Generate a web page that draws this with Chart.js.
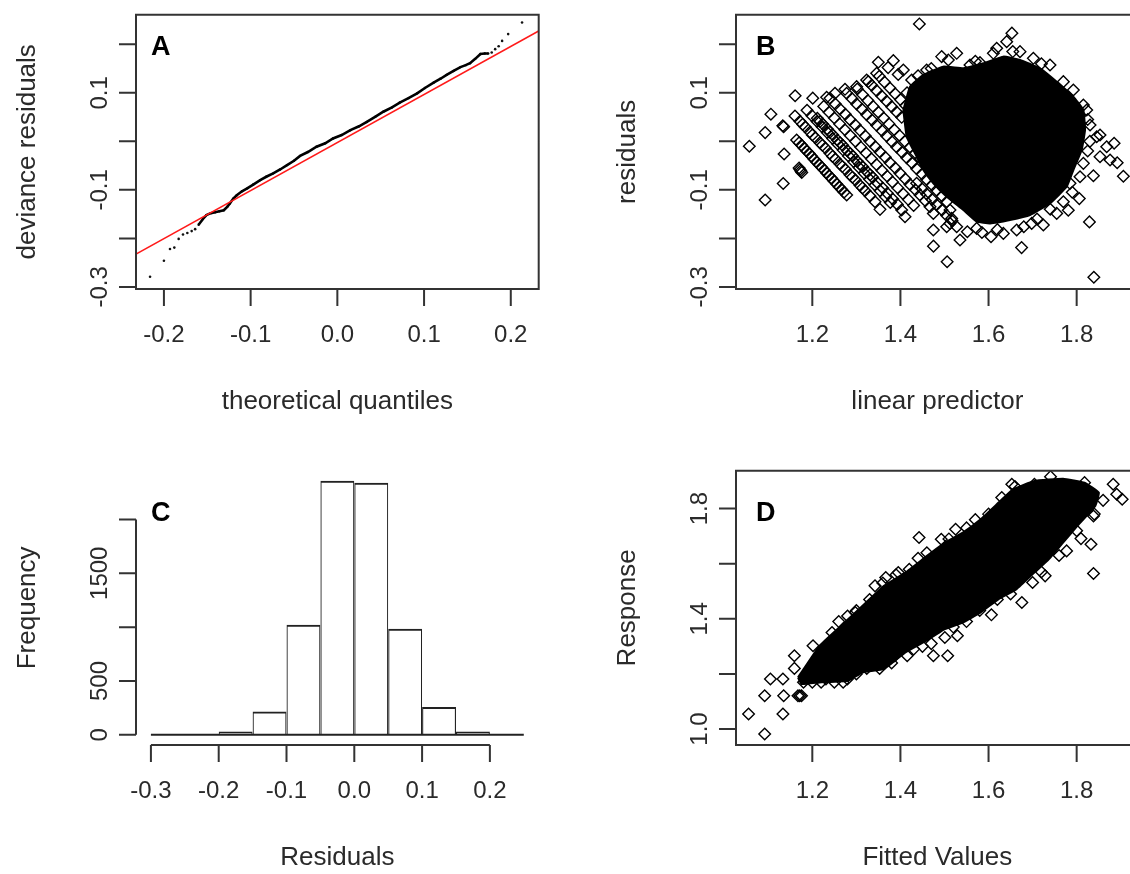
<!DOCTYPE html>
<html>
<head>
<meta charset="utf-8">
<script src="https://cdn.jsdelivr.net/npm/chart.js@4.4.1/dist/chart.umd.min.js"></script>
<style>
  html, body { margin: 0; padding: 0; background: #fff; overflow: hidden; }
  #page { position: relative; width: 1130px; height: 874px; overflow: hidden; background: #fff; }
  canvas { position: absolute; }
</style>
</head>
<body>
<div id="page">
  <canvas id="chartA" width="600" height="456" style="left:0px;top:0px"></canvas>
  <canvas id="chartB" width="600" height="456" style="left:600px;top:0px"></canvas>
  <canvas id="chartC" width="600" height="456" style="left:0px;top:456px"></canvas>
  <canvas id="chartD" width="600" height="456" style="left:600px;top:456px"></canvas>
</div>
<script>
// ---- A: QQ plot of deviance residuals ----
const qqDense = [
  [-0.160,-0.172],[-0.155,-0.160],[-0.151,-0.152],[-0.146,-0.148],[-0.141,-0.146],[-0.136,-0.144],
  [-0.131,-0.142],[-0.127,-0.135],[-0.124,-0.128],[-0.120,-0.118],[-0.116,-0.111],[-0.110,-0.103],
  [-0.104,-0.097],[-0.097,-0.089],[-0.089,-0.080],[-0.082,-0.073],[-0.074,-0.066],[-0.066,-0.058],
  [-0.058,-0.049],[-0.050,-0.040],[-0.043,-0.030],[-0.034,-0.022],[-0.024,-0.011],[-0.014,-0.004],
  [-0.005,0.006],[0.005,0.013],[0.015,0.023],[0.025,0.031],[0.034,0.040],[0.044,0.051],
  [0.053,0.061],[0.063,0.070],[0.072,0.080],[0.082,0.089],[0.092,0.099],[0.101,0.110],
  [0.111,0.121],[0.119,0.129],[0.126,0.137],[0.134,0.145],[0.142,0.153],[0.148,0.157],
  [0.153,0.161],[0.159,0.170],[0.165,0.180],[0.170,0.181],[0.174,0.181]
];
const qqTails = [
  [-0.216,-0.279],[-0.200,-0.246],[-0.193,-0.222],[-0.188,-0.219],[-0.183,-0.201],[-0.178,-0.192],
  [-0.173,-0.189],[-0.168,-0.185],[-0.164,-0.181],
  [0.178,0.183],[0.182,0.190],[0.186,0.196],[0.190,0.207],[0.197,0.221],[0.213,0.245]
];
const qqLine = [[-0.2322,-0.2324],[0.2322,0.2274]];

// ---- B: residuals vs linear predictor ----
const bCore = [
  [1.4066,0.0646],[1.4217,0.1127],[1.452,0.1368],[1.4974,0.154],[1.5428,0.1505],[1.5882,0.1608],
  [1.6336,0.1746],[1.6714,0.1677],[1.7168,0.1505],[1.7547,0.123],[1.7925,0.0921],[1.8152,0.0646],
  [1.819,0.0234],[1.8114,-0.0179],[1.7925,-0.0591],[1.7774,-0.0935],[1.7395,-0.1278],[1.6941,-0.1519],
  [1.6487,-0.1622],[1.6033,-0.1691],[1.5731,-0.1656],[1.5428,-0.1416],[1.505,-0.1141],[1.4747,-0.0866],
  [1.452,-0.0591],[1.4369,-0.0316],[1.4142,0.0096],[1.4066,0.0646]
];
const bPoints = [
  // isolated
  [1.443,0.242],[1.653,0.223],[1.057,-0.010],[1.093,0.018],[1.106,0.056],[1.093,-0.121],
  [1.134,-0.087],[1.136,-0.026],[1.133,0.032],[1.135,0.030],[1.161,0.094],[1.201,0.089],
  [1.475,-0.216],[1.506,-0.248],[1.675,-0.219],[1.839,-0.280],[1.829,-0.166],[1.806,-0.118],
  [1.781,-0.142],[1.885,-0.004],[1.906,-0.072],[1.892,-0.044],[1.838,-0.071],
  [1.172,-0.058],[1.174,-0.061],[1.170,-0.055],[1.176,-0.064],
  // streaks on the left
  [1.1644,0.0027],[1.1701,-0.003],[1.1758,-0.0082],[1.1815,-0.014],[1.1871,-0.0199],[1.193,-0.025],
  [1.1985,-0.0309],[1.204,-0.037],[1.2098,-0.0426],[1.2155,-0.048],[1.2212,-0.0536],[1.227,-0.059],
  [1.2325,-0.0653],[1.238,-0.071],[1.2439,-0.0763],[1.2495,-0.082],[1.2553,-0.088],[1.261,-0.094],
  [1.2666,-0.099],[1.272,-0.105],[1.278,-0.1107],
  [1.1607,0.0522],[1.172,0.0412],[1.178,0.035],[1.184,0.0296],[1.1947,0.0192],[1.2,0.013],
  [1.2068,0.0076],[1.2174,-0.0027],[1.223,-0.008],[1.2295,-0.0137],[1.2401,-0.0247],[1.246,-0.031],
  [1.2522,-0.0364],[1.2628,-0.0467],[1.268,-0.052],[1.2749,-0.0577],[1.2855,-0.0687],[1.291,-0.074],
  [1.2976,-0.0797],[1.3082,-0.0907],[1.314,-0.096],[1.3196,-0.1017],[1.3309,-0.1127],[1.3423,-0.1244],
  [1.3536,-0.1402],
  [1.188,0.064],[1.199,0.053],[1.211,0.041],[1.222,0.03],[1.234,0.018],[1.246,0.006],[1.258,-0.006],
  [1.27,-0.018],[1.282,-0.03],[1.294,-0.042],[1.306,-0.054],[1.318,-0.066],[1.33,-0.078],
  [1.342,-0.09],[1.354,-0.102],[1.366,-0.114],[1.377,-0.126],
  [1.2114,0.0474],[1.2175,0.041],[1.2235,0.0357],[1.2341,0.0254],[1.24,0.019],[1.2462,0.0137],
  [1.2568,0.0027],[1.263,-0.003],[1.2689,-0.0082],[1.2795,-0.0192],[1.286,-0.025],[1.2916,-0.0302],
  [1.3022,-0.0412],[1.308,-0.047],[1.3143,-0.0522],[1.3249,-0.0632],[1.331,-0.069],[1.337,-0.0742],
  [1.3476,-0.0852],[1.3597,-0.0962],[1.3703,-0.1072],[1.3824,-0.1189],[1.393,-0.1299],[1.4028,-0.1416],
  [1.4104,-0.1553],
  [1.226,0.072],[1.238,0.06],[1.25,0.048],[1.262,0.036],[1.274,0.024],[1.286,0.012],[1.298,0.0],
  [1.31,-0.012],[1.322,-0.024],[1.334,-0.036],[1.346,-0.048],[1.358,-0.06],[1.37,-0.072],
  [1.382,-0.084],[1.394,-0.096],[1.406,-0.108],[1.418,-0.12],[1.43,-0.132],
  [1.2401,0.0887],[1.2522,0.077],[1.2628,0.0667],[1.2749,0.0557],[1.2855,0.0447],[1.2976,0.0337],
  [1.3082,0.0227],[1.3203,0.011],[1.3309,0.0],[1.343,-0.011],[1.3536,-0.022],[1.3657,-0.033],
  [1.3763,-0.044],[1.3884,-0.055],[1.399,-0.066],[1.4111,-0.0777],[1.4217,-0.0887],[1.4338,-0.0997],
  [1.4444,-0.1107],[1.4565,-0.1223],[1.4671,-0.1347],[1.4747,-0.1485],
  [1.2779,0.099],[1.29,0.088],[1.3006,0.077],[1.3128,0.066],[1.3233,0.055],[1.3355,0.044],
  [1.346,0.033],[1.3582,0.022],[1.3687,0.011],[1.3809,-0.0007],[1.3914,-0.0117],[1.4036,-0.0227],
  [1.4141,-0.0337],[1.4262,-0.0447],[1.4368,-0.0564],[1.449,-0.0674],[1.4596,-0.0784],[1.4717,-0.09],
  [1.4823,-0.101],[1.4944,-0.1127],[1.505,-0.1244],[1.5125,-0.1416],[1.5163,-0.1588],[1.5125,-0.1691],
  [1.302,0.108],[1.314,0.096],[1.326,0.084],[1.338,0.072],[1.35,0.06],[1.362,0.048],[1.374,0.036],
  [1.386,0.024],[1.398,0.012],[1.41,0.0],[1.422,-0.012],[1.434,-0.024],[1.446,-0.036],
  [1.458,-0.048],[1.47,-0.06],[1.482,-0.072],[1.494,-0.084],[1.506,-0.096],[1.518,-0.108],
  [1.3233,0.1265],[1.3347,0.1155],[1.346,0.1045],[1.3574,0.0935],[1.3687,0.0825],[1.3801,0.0715],
  [1.3914,0.0605],[1.4028,0.0495],
  [1.352,0.134],[1.364,0.122],[1.376,0.11],[1.388,0.098],[1.4,0.086],[1.412,0.074],
  [1.3498,0.1629],[1.3839,0.1663],[1.4066,0.1471],[1.3271,0.123],[1.346,0.1402],[1.3006,0.1127],
  [1.2742,0.1072],[1.2325,0.0907],[1.2515,0.099],[1.372,0.152],[1.395,0.138],
  [1.4368,-0.0866],[1.449,-0.0976],[1.4596,-0.1086],[1.4717,-0.1196],[1.4823,-0.1306],[1.4944,-0.1416],
  [1.505,-0.1526],[1.5171,-0.1636],[1.5277,-0.1759],[1.5352,-0.2034],
  // rim of the dense cloud
  [1.4747,-0.1828],[1.505,-0.1759],[1.5519,-0.1862],[1.6056,-0.1966],[1.6336,-0.1897],[1.6639,-0.1828],
  [1.6979,-0.1691],[1.7244,-0.1725],[1.7547,-0.1485],[1.7698,-0.1244],[1.5731,-0.1794],
  [1.585,-0.188],[1.62,-0.182],[1.68,-0.176],[1.71,-0.16],[1.74,-0.14],[1.79,-0.105],
  [1.4255,0.1265],[1.4595,0.1471],[1.4936,0.1746],[1.5277,0.1814],[1.5087,0.1677],[1.5579,0.1574],
  [1.5806,0.1622],[1.6109,0.1814],[1.6185,0.1918],[1.6412,0.2055],[1.6714,0.1849],[1.7017,0.1711],
  [1.7395,0.1574],[1.7698,0.123],[1.7925,0.1058],[1.8152,0.0749],[1.8228,0.0646],[1.8304,0.0337],
  [1.8455,0.0096],[1.853,0.0131],[1.8682,-0.011],[1.8758,-0.0385],[1.853,-0.0316],[1.8152,-0.0454],
  [1.8076,-0.0729],[1.7849,-0.0866],[1.825,0.045],[1.83,0.0],[1.825,-0.02],[1.72,0.16],[1.655,0.185],
  [1.57,0.165],[1.47,0.15],[1.44,0.135],[1.415,0.1]
];

// ---- C: histogram of residuals ----
const histMids = [-0.275,-0.225,-0.175,-0.125,-0.075,-0.025,0.025,0.075,0.125,0.175,0.225];
const histCounts = [1, 3, 31, 216, 1022, 2358, 2340, 985, 259, 31, 2];
const histBase = [-0.3, 0.25];

// ---- D: response vs fitted ----
const dCore = [
  [1.1675,1.1873],[1.2163,1.3021],[1.265,1.3746],[1.322,1.4592],[1.3626,1.5196],[1.4114,1.568],
  [1.4602,1.6284],[1.5008,1.6767],[1.5415,1.713],[1.5821,1.7613],[1.6228,1.8218],[1.6553,1.8701],
  [1.7041,1.9003],[1.7691,1.9088],[1.8179,1.8943],[1.8504,1.858],[1.8423,1.8097],[1.8016,1.7372],
  [1.7691,1.6767],[1.7366,1.6163],[1.7041,1.568],[1.6634,1.5076],[1.6228,1.4713],[1.5821,1.423],
  [1.5415,1.3867],[1.5008,1.3625],[1.452,1.3142],[1.4114,1.278],[1.3626,1.2175],[1.3138,1.2054],
  [1.2813,1.1752],[1.2163,1.1692],[1.1756,1.1631],[1.1675,1.1873]
];
const dPoints = [
  [1.0553,1.0544],[1.0919,0.9819],[1.0919,1.1208],[1.1333,1.0544],[1.135,1.1208],[1.1049,1.1813],
  [1.1333,1.1813],[1.1715,1.1208],[1.1675,1.1208],[1.1755,1.1208],[1.1593,1.2659],[1.1593,1.22],
  [1.2016,1.3021],[1.2976,1.423],[1.4423,1.6949],[1.8382,1.5644],[1.8325,1.6707],[1.8098,1.6912],
  [1.8829,1.8882],[1.9033,1.8338],[1.891,1.852],[1.8382,1.7734],[1.6756,1.4592],[1.6065,1.4145],
  [1.5073,1.2659],[1.4748,1.2659],[1.5293,1.3384],[1.5008,1.3323],[1.7772,1.6465],[1.7285,1.5559],
  [1.7,1.5317],[1.6528,1.8882],[1.7041,1.8882],[1.7407,1.916],[1.8179,1.8943],[1.5252,1.725],
  [1.4927,1.6888],[1.3951,1.568],[1.3667,1.5498],[1.3423,1.5196],[1.2447,1.3505],[1.2309,1.1813],
  [1.2797,1.1813],[1.3528,1.22],[1.3236,1.22],[1.387,1.2659],[1.4154,1.2659],
  [1.18,1.17],[1.2,1.17],[1.22,1.17],[1.25,1.17],[1.27,1.17],
  [1.3,1.43],[1.33,1.47],[1.36,1.53],[1.42,1.58],[1.46,1.64],[1.51,1.69],[1.55,1.73],[1.6,1.78],
  [1.63,1.84],[1.66,1.88],[1.72,1.57],[1.76,1.63],[1.8,1.72],[1.84,1.78],[1.86,1.83],[1.65,1.49],
  [1.58,1.43],[1.55,1.39],[1.47,1.31],[1.43,1.29],[1.38,1.24],[1.3,1.2],
  [1.26,1.39],[1.28,1.41],[1.39,1.56],[1.44,1.62],[1.57,1.76],[1.62,1.47],[1.52,1.37],[1.45,1.3]
];

// tick values and labels ('' = tick without label, as R drops crowded ones)
const aXTicks = [-0.2, -0.1, 0.0, 0.1, 0.2];
const aXLabels = ['-0.2', '-0.1', '0.0', '0.1', '0.2'];
const resYTicks = [-0.3, -0.2, -0.1, 0.0, 0.1, 0.2];
const resYLabels = ['-0.3', '', '-0.1', '', '0.1', ''];
const predXTicks = [1.2, 1.4, 1.6, 1.8];
const predXLabels = ['1.2', '1.4', '1.6', '1.8'];
const cXTicks = [-0.3, -0.2, -0.1, 0.0, 0.1, 0.2];
const cXLabels = ['-0.3', '-0.2', '-0.1', '0.0', '0.1', '0.2'];
const cYTicks = [0, 500, 1000, 1500, 2000];
const cYLabels = ['0', '500', '', '1500', ''];
const dYTicks = [1.0, 1.2, 1.4, 1.6, 1.8];
const dYLabels = ['1.0', '', '1.4', '', '1.8'];

const INK = '#2a2a2a';
const FONT = "'Liberation Sans', Arial, sans-serif";

// R style axes: box, outward ticks, rotated y labels, titles and panel letter
const rAxes = {
  id: 'rAxes',
  afterDraw(chart, args, o) {
    const {ctx, chartArea: a} = chart;
    const x = chart.scales.x, y = chart.scales.y;
    const tl = 17;
    ctx.save();
    ctx.strokeStyle = '#333';
    ctx.lineWidth = 2;
    ctx.beginPath();
    if (o.box) {
      ctx.rect(a.left, a.top, a.right - a.left, a.bottom - a.top);
    } else {
      ctx.moveTo(a.left, y.getPixelForValue(o.yTicks[0]));
      ctx.lineTo(a.left, y.getPixelForValue(o.yTicks[o.yTicks.length - 1]));
      ctx.moveTo(x.getPixelForValue(o.xTicks[0]), a.bottom);
      ctx.lineTo(x.getPixelForValue(o.xTicks[o.xTicks.length - 1]), a.bottom);
    }
    o.yTicks.forEach(v => {
      const py = y.getPixelForValue(v);
      ctx.moveTo(a.left - tl, py);
      ctx.lineTo(a.left, py);
    });
    o.xTicks.forEach(v => {
      const px = x.getPixelForValue(v);
      ctx.moveTo(px, a.bottom);
      ctx.lineTo(px, a.bottom + tl);
    });
    ctx.stroke();

    ctx.fillStyle = INK;
    ctx.font = '24px ' + FONT;
    ctx.textAlign = 'center';
    ctx.textBaseline = 'middle';
    o.xTicks.forEach((v, i) => {
      ctx.fillText(o.xLabels[i], x.getPixelForValue(v), a.bottom + 46);
    });
    o.yTicks.forEach((v, i) => {
      if (!o.yLabels[i]) return;
      ctx.save();
      ctx.translate(a.left - 36, y.getPixelForValue(v));
      ctx.rotate(-Math.PI / 2);
      ctx.fillText(o.yLabels[i], 0, 0);
      ctx.restore();
    });
    ctx.font = '26px ' + FONT;
    ctx.fillText(o.xTitle, (a.left + a.right) / 2, a.bottom + 113);
    ctx.save();
    ctx.translate(a.left - 108, (a.top + a.bottom) / 2);
    ctx.rotate(-Math.PI / 2);
    ctx.fillText(o.yTitle, 0, 0);
    ctx.restore();

    ctx.fillStyle = '#000';
    ctx.font = 'bold 27px ' + FONT;
    ctx.textAlign = 'left';
    ctx.textBaseline = 'alphabetic';
    ctx.fillText(o.letter, a.left + o.letterDx, a.top + o.letterDy);
    ctx.restore();
  }
};
Chart.register(rAxes);

const xy = pairs => pairs.map(p => ({x: p[0], y: p[1]}));

const baseOptions = (xr, yr, axes) => ({
  responsive: false,
  animation: false,
  events: [],
  layout: {padding: {left: 136, top: 14.7, right: 61.3, bottom: 167}},
  scales: {
    x: {type: 'linear', display: false, min: xr[0], max: xr[1], offset: false},
    y: {type: 'linear', display: false, min: yr[0], max: yr[1]}
  },
  plugins: {legend: {display: false}, tooltip: {enabled: false}, rAxes: axes}
});

const diamonds = {
  showLine: false,
  pointStyle: 'rectRot',
  pointRadius: 5.8,
  pointBorderWidth: 1.4,
  pointBorderColor: '#000',
  pointBackgroundColor: 'rgba(0,0,0,0)'
};
const blob = {
  showLine: true,
  fill: 'shape',
  backgroundColor: '#000',
  borderColor: '#000',
  borderWidth: 2,
  pointRadius: 0,
  tension: 0.1
};

// A
new Chart(document.getElementById('chartA'), {
  type: 'scatter',
  data: {datasets: [
    {data: xy(qqLine), showLine: true, borderColor: '#ff1a1a', borderWidth: 1.6, pointRadius: 0},
    {data: xy(qqDense), showLine: true, borderColor: '#000', borderWidth: 2.6, pointRadius: 1.2,
     pointBackgroundColor: '#000', pointBorderWidth: 0},
    {data: xy(qqTails), pointRadius: 1.3, pointBackgroundColor: '#111', pointBorderWidth: 0}
  ]},
  options: baseOptions([-0.2322, 0.2322], [-0.3043, 0.261], {
    box: true, xTicks: aXTicks, xLabels: aXLabels, yTicks: resYTicks, yLabels: resYLabels,
    xTitle: 'theoretical quantiles', yTitle: 'deviance residuals', letter: 'A', letterDx: 15, letterDy: 40.6
  })
});

// B
new Chart(document.getElementById('chartB'), {
  type: 'scatter',
  data: {datasets: [
    Object.assign({data: xy(bPoints)}, diamonds),
    Object.assign({data: xy(bCore)}, blob)
  ]},
  options: baseOptions([1.0268, 1.9408], [-0.3043, 0.261], {
    box: true, xTicks: predXTicks, xLabels: predXLabels, yTicks: resYTicks, yLabels: resYLabels,
    xTitle: 'linear predictor', yTitle: 'residuals', letter: 'B', letterDx: 20, letterDy: 40.6
  })
});

// C
new Chart(document.getElementById('chartC'), {
  type: 'bar',
  data: {datasets: [
    {type: 'bar', data: histMids.map((m, i) => ({x: m, y: histCounts[i]})),
     backgroundColor: 'rgba(0,0,0,0)', borderColor: '#222',
     borderWidth: {top: 2, left: 1.1, right: 1.1, bottom: 0}, borderSkipped: 'start',
     barPercentage: 1, categoryPercentage: 1, inflateAmount: 0},
    {type: 'line', data: [{x: histBase[0], y: 0}, {x: histBase[1], y: 0}],
     borderColor: '#222', borderWidth: 2, pointRadius: 0}
  ]},
  options: baseOptions([-0.322, 0.272], [-94.3, 2452.3], {
    box: false, xTicks: cXTicks, xLabels: cXLabels, yTicks: cYTicks, yLabels: cYLabels,
    xTitle: 'Residuals', yTitle: 'Frequency', letter: 'C', letterDx: 15, letterDy: 50
  })
});

// D
new Chart(document.getElementById('chartD'), {
  type: 'scatter',
  data: {datasets: [
    Object.assign({data: xy(dPoints)}, diamonds),
    Object.assign({data: xy(dCore)}, blob)
  ]},
  options: baseOptions([1.0268, 1.9408], [0.942, 1.9376], {
    box: true, xTicks: predXTicks, xLabels: predXLabels, yTicks: dYTicks, yLabels: dYLabels,
    xTitle: 'Fitted Values', yTitle: 'Response', letter: 'D', letterDx: 20, letterDy: 50
  })
});
</script>
</body>
</html>
